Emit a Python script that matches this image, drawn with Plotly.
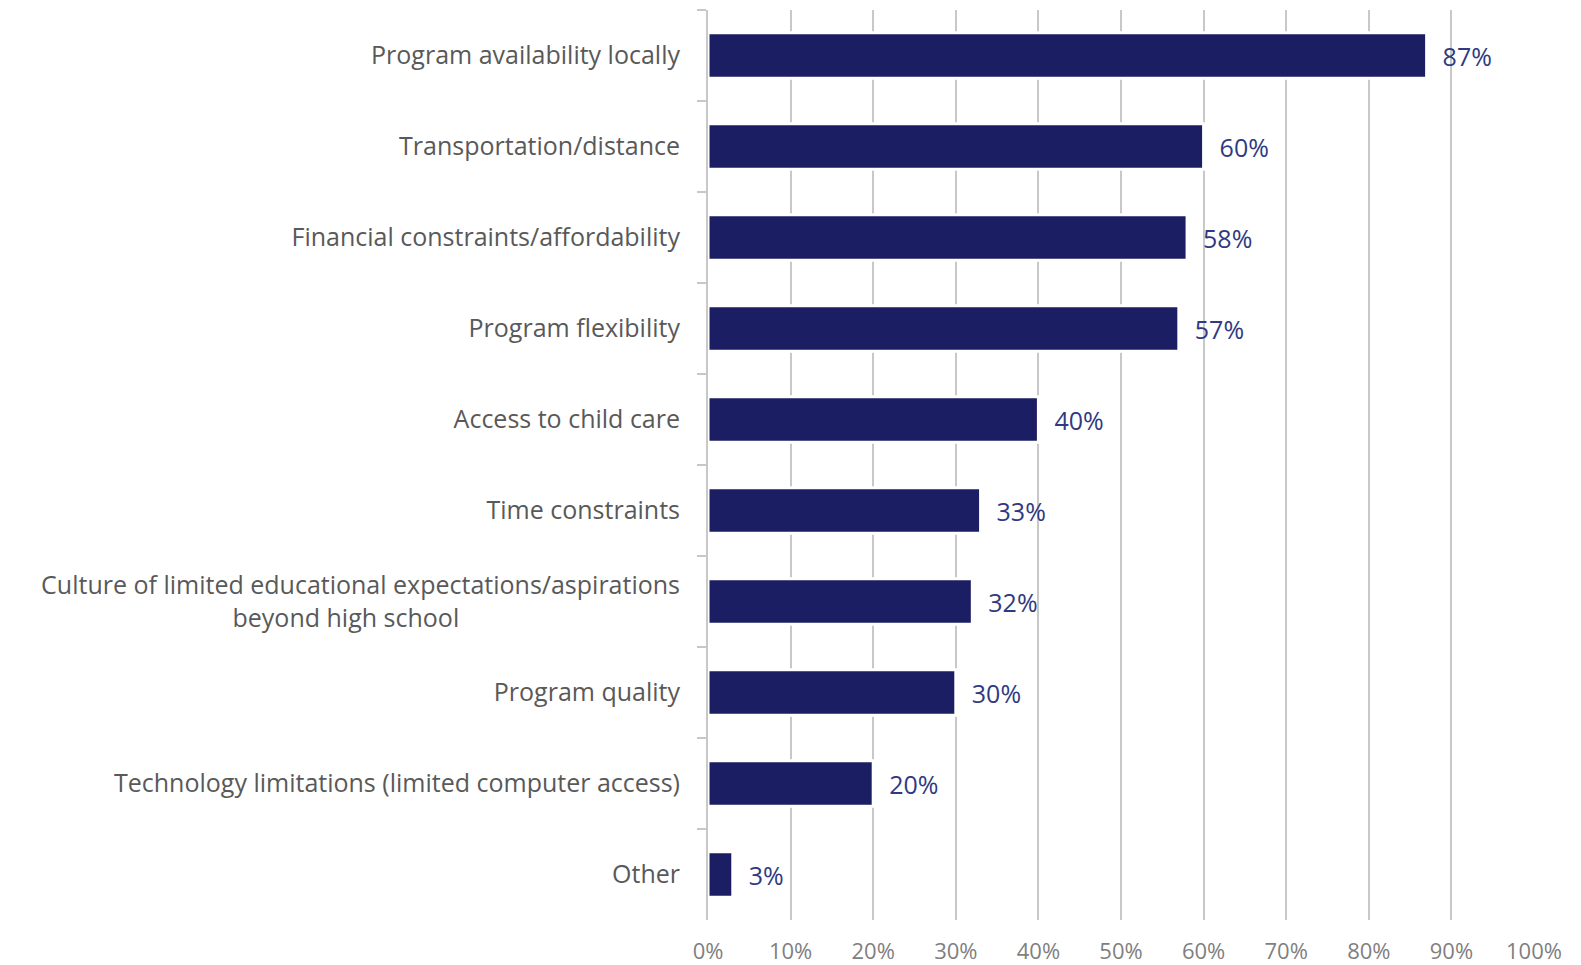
import plotly.graph_objects as go

categories = [
    "Program availability locally",
    "Transportation/distance",
    "Financial constraints/affordability",
    "Program flexibility",
    "Access to child care",
    "Time constraints",
    "Culture of limited educational expectations/aspirations<br>beyond high school" + "\u00a0" * 34,
    "Program quality",
    "Technology limitations (limited computer access)",
    "Other",
]
values = [87, 60, 58, 57, 40, 33, 32, 30, 20, 3]
x_tickvals = [0, 10, 20, 30, 40, 50, 60, 70, 80, 90, 100]
x_ticktext = [f"{v}%" for v in x_tickvals]

FONT = "Open Sans"

fig = go.Figure()
fig.add_trace(go.Bar(
    y=categories,
    x=values,
    orientation="h",
    marker=dict(color="#1b1e62", line=dict(color="white", width=3)),
    text=[f"\u00a0\u00a0{v}%" for v in values],
    textposition="outside",
    textfont=dict(family=FONT, size=25, color="#2f3a82"),
    cliponaxis=False,
    width=0.5,
))

# page body has an 8px default margin; compensate so the plot area lands where the reference has it
fig.update_layout(
    width=1573, height=957,
    paper_bgcolor="white", plot_bgcolor="white",
    margin=dict(l=700, r=47, t=2, b=45),
    showlegend=False,
    font=dict(family=FONT),
    xaxis=dict(
        range=[0, 100], tickvals=x_tickvals, ticktext=x_ticktext,
        showgrid=True, gridcolor="#c8c8c8", gridwidth=2,
        zeroline=False, showline=False,
        tickfont=dict(family=FONT, size=22, color="#7f7f7f"),
        ticks="",
        ticklabelstandoff=16,
        automargin=False,
    ),
    yaxis=dict(
        autorange="reversed",
        showline=True, linecolor="#c8c8c8", linewidth=2,
        ticks="outside", tickson="boundaries", ticklen=9, tickcolor="#c8c8c8", tickwidth=2,
        tickfont=dict(family=FONT, size=25, color="#595959"),
        ticklabelstandoff=21,
        showgrid=False,
        automargin=False,
    ),
)

fig.write_html("out.html")
